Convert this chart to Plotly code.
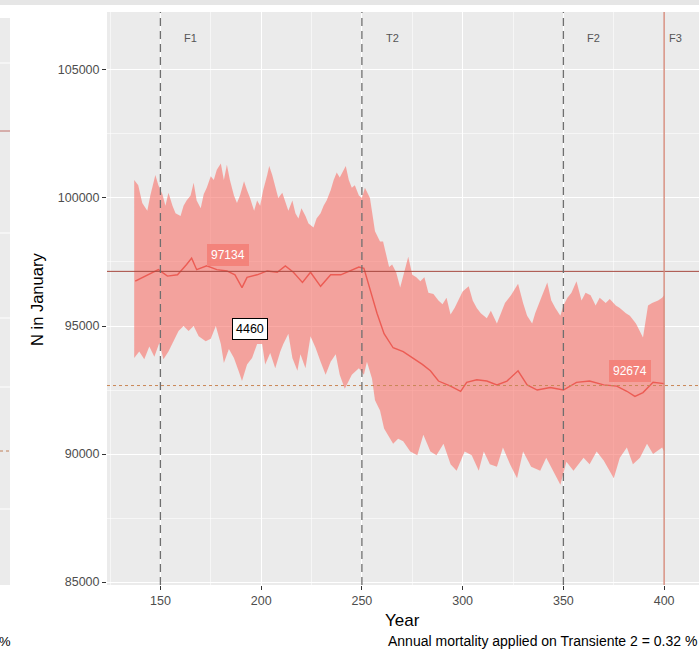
import plotly.graph_objects as go

# ---------------- data ----------------
upper_years = [137, 139, 141, 143.5, 145, 147.5, 149, 151, 152.5, 154, 156, 157.5, 160, 161.5, 163, 165,
               166.5, 168, 170, 171.5, 173, 175, 176.5, 178, 180, 181.5, 183, 184.5, 186.5, 188, 189.5,
               191.5, 193, 194.5, 196.5, 198, 199.5, 201, 203, 204, 205.5, 207, 208.5, 210.5, 212, 213.5,
               215.5, 217, 218.5, 220, 222, 223.5, 226, 227.5, 229.5, 231, 232.5, 234.5, 236, 237.5, 239,
               241, 242, 243.5, 245, 246.5, 248.5, 250, 251.5, 254, 256.5, 259, 260.5, 262, 263.5, 265,
               267, 269, 271, 273, 275, 277, 279, 281, 283, 285.5, 288, 290, 292, 294, 296, 298, 300, 303,
               305, 307, 309, 312, 314, 317, 319, 321, 324, 327.5, 330, 332, 334.5, 336, 339, 342, 344,
               346, 348.5, 350, 352, 354, 356.5, 359, 361, 363.5, 366, 368, 371, 373, 376, 378, 381, 383,
               386, 389.5, 392, 394, 397, 399, 400]
upper_vals = [100700, 100500, 99800, 99500, 100100, 100900, 100500, 100150, 99700, 100200, 99700, 99400,
              99300, 99700, 99900, 100100, 100600, 99900, 99600, 100150, 100400, 100850, 100700, 101100,
              101350, 100700, 101300, 100700, 100100, 99800, 100100, 100650, 100300, 100000, 99500, 99900,
              99700, 100300, 100900, 101250, 100900, 100500, 100000, 100200, 99800, 99500, 99900, 99400,
              99200, 99600, 99300, 99000, 98850, 99200, 99400, 99700, 99900, 100300, 100700, 101000,
              100800, 101100, 101250, 100700, 100400, 100500, 100100, 100000, 100400, 100000, 98700,
              98300, 98300, 97800, 97300, 97400, 97100, 96500, 97100, 97700, 97000, 96900, 96750, 96900,
              96300, 96250, 96000, 95850, 96100, 95450, 95700, 96000, 96350, 96550, 96000, 95700, 95500,
              95300, 95600, 95100, 95500, 95900, 96200, 96650, 95900, 95400, 95100, 95500, 96100, 96700,
              96000, 95700, 95400, 95800, 96100, 96300, 96750, 96000, 96300, 96200, 95800, 96100, 95900,
              96050, 95800, 95700, 95500, 95400, 95100, 94550, 95800, 95900, 96000, 96100, 96200]

lower_years = [137, 139.5, 142, 144.5, 147, 149.5, 151.5, 154, 156.5, 159, 161.5, 164, 166.5, 169, 172.5,
               175, 177.5, 180, 181.5, 184, 186.5, 189, 190.5, 193, 195.5, 198, 200.5, 202, 204.5, 207,
               209.5, 211, 213.5, 215.5, 218, 219.5, 222, 224.5, 227, 229.5, 232, 234.5, 237, 239, 241.5,
               245, 248.5, 251, 252.5, 255, 256.5, 259, 261, 263.5, 265.5, 268, 270.5, 274, 277.5, 280.5,
               284, 287, 290.5, 294, 297, 301, 304.5, 308, 310.5, 313.5, 317, 320, 323.5, 327, 330, 334,
               338.5, 341.5, 345, 348.5, 351.5, 355, 360, 363, 366.5, 370, 375, 378, 381.5, 384.5, 388,
               391.5, 394.5, 399, 400]
lower_vals = [93750, 94000, 93700, 94200, 93800, 94350, 93700, 94000, 94400, 94800, 95000, 94800, 95000,
              94600, 94400, 94500, 95000, 94300, 93550, 94100, 93750, 93200, 92850, 93500, 93750, 94300,
              94300, 93500, 93950, 93350, 94000, 94300, 94700, 93750, 93250, 93900, 93350, 94600, 94150,
              93600, 93100, 93600, 93900, 93100, 92550, 93100, 93350, 93100, 93600, 92950, 92100, 91700,
              91000, 90650, 90400, 90600, 90500, 90100, 89950, 90750, 90100, 89950, 90400, 89600, 89350,
              90100, 89950, 89350, 90100, 89600, 89500, 90250, 89600, 89050, 90100, 89500, 89350, 89850,
              89350, 88800, 89700, 89350, 89850, 89600, 90100, 89750, 89050, 89850, 90250, 89600, 89850,
              90400, 90000, 90250, 90100]

mean_years = [137.5, 143.5, 149, 153.5, 158.5, 163, 165.5, 168, 173, 178, 183, 187, 190.5, 193, 198, 203,
              208, 212, 216, 220.5, 224.5, 229.5, 234.5, 239.5, 244, 248.5, 251, 254, 257.5, 261, 265.5,
              270.5, 275.5, 280, 284, 288, 294, 299, 302, 307, 312, 317, 322, 327.5, 332, 337, 343.5, 350,
              356.5, 363, 370, 376.5, 381.5, 385.5, 389.5, 394.5, 400]
mean_vals = [96750, 97000, 97200, 96950, 97000, 97400, 97650, 97200, 97350, 97200, 97150, 97000, 96500,
             96900, 97000, 97150, 97100, 97350, 97100, 96700, 97100, 96550, 97000, 97000, 97150, 97300,
             97250, 96400, 95500, 94700, 94150, 94000, 93750, 93500, 93250, 92850, 92650, 92450, 92800,
             92900, 92850, 92700, 92850, 93250, 92700, 92500, 92600, 92500, 92800, 92850, 92700, 92650,
             92450, 92250, 92400, 92800, 92750]

ref_before = 97134
ref_after = 92674
diff_label = "4460"
event_years = [150, 250, 350]
event_names = ["F1", "T2", "F2"]
end_year = 400
end_name = "F3"
x_ticks = [150, 200, 250, 300, 350, 400]
y_ticks = [85000, 90000, 95000, 100000, 105000]
caption = "Annual mortality applied on Transiente 2 = 0.32 %"

# ---------------- figure ----------------
W, H = 699, 657
L, R, T, B = 107, 0, 12, 72
pw, ph = W - L - R, H - T - B
FONT = "Liberation Sans, Arial, sans-serif"

def px_x(p):
    return (p - L) / pw

def px_y(p):
    return (H - B - p) / ph

fig = go.Figure()

# ribbon as a closed polygon
fig.add_trace(go.Scatter(
    x=upper_years + lower_years[::-1],
    y=upper_vals + lower_vals[::-1],
    fill="toself", fillcolor="rgba(248,118,109,0.62)",
    line=dict(width=0), mode="lines", hoverinfo="skip", showlegend=False))

fig.add_trace(go.Scatter(
    x=mean_years, y=mean_vals, mode="lines",
    line=dict(color="#ec5c54", width=1.4), showlegend=False))

shapes = []
# top grey band and left neighbour panel fragment
shapes.append(dict(type="rect", xref="paper", yref="paper", x0=px_x(0), x1=px_x(W), y0=px_y(5), y1=px_y(0),
                   fillcolor="#e6e6e6", line=dict(width=0), layer="below"))
shapes.append(dict(type="rect", xref="paper", yref="paper", x0=px_x(0), x1=px_x(10), y0=px_y(585), y1=px_y(18),
                   fillcolor="#EBEBEB", line=dict(width=0), layer="below"))
for gy in [63, 233, 318, 387, 509]:
    shapes.append(dict(type="line", xref="paper", yref="paper", x0=px_x(0), x1=px_x(10), y0=px_y(gy), y1=px_y(gy),
                       line=dict(color="white", width=1)))
shapes.append(dict(type="line", xref="paper", yref="paper", x0=px_x(0), x1=px_x(10), y0=px_y(131), y1=px_y(131),
                   line=dict(color="#c0706a", width=1)))
shapes.append(dict(type="line", xref="paper", yref="paper", x0=px_x(0), x1=px_x(10), y0=px_y(451), y1=px_y(451),
                   line=dict(color="#c0805a", width=1, dash="dot")))

# reference horizontal lines
shapes.append(dict(type="line", xref="paper", yref="y", x0=0, x1=1, y0=ref_before, y1=ref_before,
                   line=dict(color="#a6483f", width=1)))
shapes.append(dict(type="line", xref="paper", yref="y", x0=0, x1=1, y0=ref_after, y1=ref_after,
                   line=dict(color="#c98756", width=1, dash="dot")))
# event lines
for ey in event_years:
    shapes.append(dict(type="line", xref="x", yref="paper", x0=ey, x1=ey, y0=0, y1=1,
                       line=dict(color="#6f6f6f", width=1.3, dash="8px,5px")))
shapes.append(dict(type="line", xref="x", yref="paper", x0=end_year, x1=end_year, y0=0, y1=1,
                   line=dict(color="#d48a7a", width=1.4)))

annotations = []
label_font = dict(family=FONT, size=11, color="#555555")
for ey, nm in zip(event_years, event_names):
    annotations.append(dict(x=ey + 15, y=106250, xref="x", yref="y", text=nm, showarrow=False, font=label_font))
annotations.append(dict(x=end_year + 5.5, y=106250, xref="x", yref="y", text=end_name, showarrow=False, font=label_font))

annotations.append(dict(x=183.5, y=97780, xref="x", yref="y", text=str(ref_before), showarrow=False,
                        font=dict(family=FONT, size=12, color="white"),
                        bgcolor="#f3837b", borderpad=3, bordercolor="#f3837b"))
annotations.append(dict(x=194.5, y=94880, xref="x", yref="y", text=diff_label, showarrow=False,
                        font=dict(family=FONT, size=12.5, color="black"),
                        bgcolor="white", bordercolor="black", borderwidth=1, borderpad=3))
annotations.append(dict(x=383, y=93240, xref="x", yref="y", text=str(ref_after), showarrow=False,
                        font=dict(family=FONT, size=12, color="white"),
                        bgcolor="#f3837b", borderpad=3, bordercolor="#f3837b"))

annotations.append(dict(x=px_x(37), y=px_y(300), xref="paper", yref="paper", text="N in January",
                        textangle=-90, showarrow=False, xanchor="center", yanchor="middle",
                        font=dict(family=FONT, size=16.5, color="black")))
annotations.append(dict(x=px_x(402), y=px_y(620), xref="paper", yref="paper", text="Year", showarrow=False,
                        xanchor="center", yanchor="middle",
                        font=dict(family=FONT, size=17, color="black")))
annotations.append(dict(x=1.0, y=px_y(641), xref="paper", yref="paper", text=caption, xanchor="right",
                        yanchor="middle", showarrow=False, font=dict(family=FONT, size=14, color="black")))
annotations.append(dict(x=px_x(-3), y=px_y(641), xref="paper", yref="paper", text="%", xanchor="left",
                        yanchor="middle", showarrow=False, font=dict(family=FONT, size=13, color="black")))

fig.update_layout(
    width=W, height=H,
    margin=dict(l=L, r=R, t=T, b=B, pad=0),
    paper_bgcolor="white", plot_bgcolor="#EBEBEB",
    font=dict(family=FONT),
    shapes=shapes, annotations=annotations, showlegend=False,
    xaxis=dict(range=[123.5, 417.3], tickvals=x_ticks, ticktext=[str(v) for v in x_ticks],
               showgrid=True, gridcolor="white", gridwidth=1.1, zeroline=False,
               ticks="outside", ticklen=4, tickcolor="#333333", tickwidth=1,
               tickfont=dict(size=12.5, color="#4d4d4d"),
               minor=dict(dtick=25, tick0=125, showgrid=True, gridcolor="rgba(255,255,255,0.55)", gridwidth=0.6)),
    yaxis=dict(range=[84883, 107265], tickvals=y_ticks, ticktext=[str(v) for v in y_ticks],
               showgrid=True, gridcolor="white", gridwidth=1.1, zeroline=False,
               ticks="outside", ticklen=4, tickcolor="#333333", tickwidth=1,
               tickfont=dict(size=12.5, color="#4d4d4d"),
               minor=dict(dtick=2500, tick0=85000, showgrid=True, gridcolor="rgba(255,255,255,0.55)", gridwidth=0.6)),
)

fig.write_html("out.html")
